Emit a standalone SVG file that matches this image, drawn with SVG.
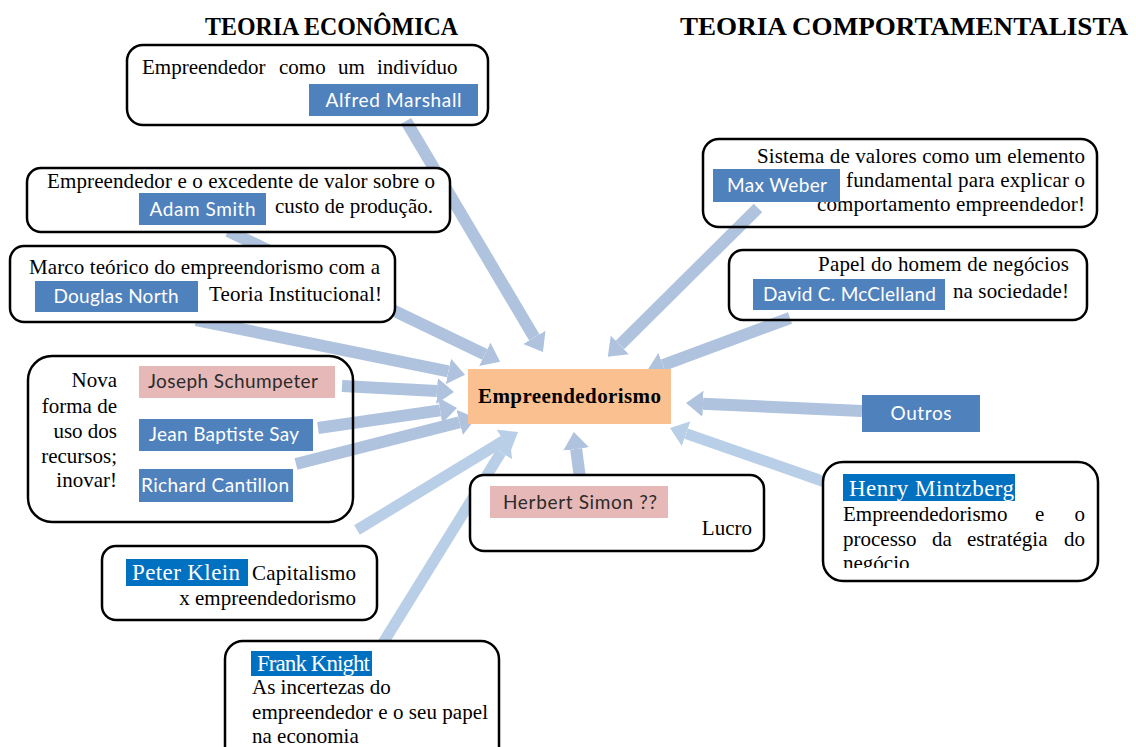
<svg xmlns="http://www.w3.org/2000/svg" width="1136" height="747" viewBox="0 0 1136 747">
  <defs>
    <marker id="h1" markerUnits="userSpaceOnUse" markerWidth="17" markerHeight="26" refX="0" refY="13" orient="auto" viewBox="0 0 17 26">
      <path d="M0,0 L17,13 L0,26 z" fill="#AFC3DF"/>
    </marker>
    <marker id="h2" markerUnits="userSpaceOnUse" markerWidth="17" markerHeight="26" refX="0" refY="13" orient="auto" viewBox="0 0 17 26">
      <path d="M0,0 L17,13 L0,26 z" fill="#B9CEE7"/>
    </marker>
    <clipPath id="mintzClip"><rect x="823" y="462" width="275" height="106"/></clipPath>
    <style>
      .box{fill:#fff;stroke:#000;stroke-width:2.5}
      .open{fill:none}
      .t{font-family:"Liberation Serif","Times New Roman",serif;font-size:21px;fill:#000}
      .title{font-family:"Liberation Serif","Times New Roman",serif;font-size:26px;font-weight:bold;fill:#000}
      .lb{font-family:Lato,"Noto Sans",sans-serif;font-size:19px;fill:#fff}
      .lbd{font-family:Lato,"Noto Sans",sans-serif;font-size:19px;fill:#2b2b2b}
      .hlt{font-family:"Liberation Serif","Times New Roman",serif;font-size:23px;fill:#fff}
      .blue{fill:#4F81BD}
      .pink{fill:#E6B9B8}
      .hl{fill:#0070C0}
      .arr{stroke:#AFC3DF;stroke-width:12;fill:none;marker-end:url(#h1)}
      .arr2{stroke:#B9CEE7;stroke-width:11;fill:none;marker-end:url(#h2)}
      .end{text-anchor:end}
      .mid{text-anchor:middle}
    </style>
  </defs>
  <rect width="1136" height="747" fill="#fff"/>

  <!-- arrows pointing into the central concept (drawn under the boxes) -->
  <g id="connectors">
    <line class="arr" x1="406" y1="121" x2="534.3" y2="337.4"/>
    <line class="arr" x1="228" y1="231" x2="484.8" y2="354.3"/>
    <line class="arr" x1="196" y1="320" x2="448.4" y2="371.4"/>
    <line class="arr" x1="342" y1="386" x2="437" y2="391.1"/>
    <line class="arr" x1="318" y1="428" x2="440.2" y2="410.4"/>
    <line class="arr" x1="296" y1="464" x2="459.6" y2="422.3"/>
    <line class="arr2" x1="357" y1="530" x2="503.5" y2="440.8"/>
    <line class="arr2" x1="383" y1="643" x2="501" y2="452.4"/>
    <line class="arr" x1="580" y1="478" x2="576.1" y2="448.9"/>
    <line class="arr" x1="758" y1="208" x2="619.9" y2="344.9"/>
    <line class="arr" x1="790" y1="318" x2="662.9" y2="365.1"/>
    <line class="arr" x1="862" y1="411" x2="703" y2="403.8"/>
    <line class="arr2" x1="825" y1="482" x2="686.1" y2="433.6"/>
  </g>

  <!-- section headings -->
  <g id="titles">
    <text class="title" x="205" y="35" textLength="253" lengthAdjust="spacingAndGlyphs">TEORIA ECONÔMICA</text>
    <text class="title" x="680" y="35" textLength="448" lengthAdjust="spacingAndGlyphs">TEORIA COMPORTAMENTALISTA</text>
  </g>

  <!-- central concept -->
  <g id="n-center">
    <rect x="468" y="369" width="203" height="55" fill="#FAC090"/>
    <text x="569.5" y="403" text-anchor="middle" font-family="'Liberation Serif','Times New Roman',serif" font-size="21" font-weight="bold" textLength="183">Empreendedorismo</text>
  </g>

  <g id="n-marshall">
    <rect class="box open" x="127" y="45" width="361" height="80" rx="16"/>
    <text class="t" x="142" y="74">Empreendedor</text>
    <text class="t" x="279" y="74">como</text>
    <text class="t" x="338" y="74">um</text>
    <text class="t" x="377" y="74">indivíduo</text>
    <rect class="blue" x="309" y="84" width="169" height="32"/>
    <text class="lb mid" x="393.5" y="107" textLength="136">Alfred Marshall</text>
  </g>

  <g id="n-smith">
    <rect class="box" x="27" y="168" width="423" height="64" rx="14"/>
    <text class="t" x="47" y="188" textLength="388">Empreendedor e o excedente de valor sobre o</text>
    <rect class="blue" x="139" y="193" width="127" height="32"/>
    <text class="lb mid" x="202.5" y="216" textLength="106">Adam Smith</text>
    <text class="t" x="275" y="213" textLength="158">custo de produção.</text>
  </g>

  <g id="n-north">
    <rect class="box" x="10" y="246" width="385" height="76" rx="14"/>
    <text class="t" x="29" y="274" textLength="351">Marco teórico do empreendorismo com a</text>
    <rect class="blue" x="35" y="281" width="163" height="31"/>
    <text class="lb mid" x="116" y="303" textLength="125">Douglas North</text>
    <text class="t" x="209" y="301" textLength="173">Teoria Institucional!</text>
  </g>

  <g id="n-schumpeter">
    <rect class="box open" x="28" y="356" width="325" height="166" rx="24"/>
    <text class="t end" x="117" y="387">Nova</text>
    <text class="t end" x="117" y="413">forma de</text>
    <text class="t end" x="117" y="438">uso dos</text>
    <text class="t end" x="117" y="463">recursos;</text>
    <text class="t end" x="117" y="487">inovar!</text>
    <rect class="pink" x="139" y="366" width="196" height="32"/>
    <text class="lbd" x="148" y="388" textLength="170">Joseph Schumpeter</text>
    <rect class="blue" x="139" y="419" width="174" height="32"/>
    <text class="lb" x="149" y="441" textLength="150">Jean Baptiste Say</text>
    <rect class="blue" x="139" y="469" width="154" height="33"/>
    <text class="lb" x="141" y="492" textLength="148">Richard Cantillon</text>
  </g>

  <g id="n-simon">
    <rect class="box" x="470" y="475" width="294" height="76" rx="14"/>
    <rect class="pink" x="490" y="486" width="178" height="32"/>
    <text class="lbd" x="503" y="509" textLength="154">Herbert Simon ??</text>
    <text class="t end" x="752" y="535">Lucro</text>
  </g>

  <g id="n-weber">
    <rect class="box open" x="703" y="139" width="394" height="88" rx="16"/>
    <text class="t end" x="1085" y="163" textLength="328">Sistema de valores como um elemento</text>
    <text class="t end" x="1085" y="187" textLength="239">fundamental para explicar o</text>
    <text class="t end" x="1085" y="211" textLength="268">comportamento empreendedor!</text>
    <rect class="blue" x="713" y="169" width="127" height="33"/>
    <text class="lb" x="727" y="192" textLength="100">Max Weber</text>
  </g>

  <g id="n-mcclelland">
    <rect class="box open" x="729" y="250" width="358" height="70" rx="14"/>
    <text class="t end" x="1069" y="271" textLength="251">Papel do homem de negócios</text>
    <rect class="blue" x="753" y="279" width="192" height="31"/>
    <text class="lb" x="763" y="301" textLength="173">David C. McClelland</text>
    <text class="t end" x="1069" y="298" textLength="116">na sociedade!</text>
  </g>

  <g id="n-outros">
    <rect class="blue" x="862" y="395" width="118" height="37"/>
    <text class="lb mid" x="921" y="420" textLength="61">Outros</text>
  </g>

  <g id="n-mintzberg">
    <rect class="box" x="823" y="462" width="275" height="119" rx="20"/>
    <rect class="hl" x="843" y="474" width="172" height="27"/>
    <text class="hlt" x="849" y="496" textLength="165">Henry Mintzberg</text>
    <g clip-path="url(#mintzClip)">
      <text class="t" x="843" y="521">Empreendedorismo</text>
      <text class="t" x="1035" y="521">e</text>
      <text class="t end" x="1085" y="521">o</text>
      <text class="t" x="843" y="546">processo</text>
      <text class="t" x="932" y="546">da</text>
      <text class="t" x="967" y="546">estratégia</text>
      <text class="t end" x="1085" y="546">do</text>
      <text class="t" x="843" y="570">negócio</text>
    </g>
  </g>

  <g id="n-klein">
    <rect class="box" x="102" y="546" width="275" height="74" rx="14"/>
    <rect class="hl" x="126" y="559" width="122" height="27"/>
    <text class="hlt" x="132" y="580" textLength="108">Peter Klein</text>
    <text class="t" x="252" y="580" textLength="104">Capitalismo</text>
    <text class="t end" x="356" y="605">x empreendedorismo</text>
  </g>

  <g id="n-knight">
    <rect class="box" x="225" y="641" width="274" height="130" rx="18"/>
    <rect class="hl" x="251" y="651" width="121" height="25"/>
    <text class="hlt" x="257" y="671" font-size="21" textLength="113">Frank Knight</text>
    <text class="t" x="252" y="694">As incertezas do</text>
    <text class="t" x="252" y="719" textLength="236">empreendedor e o seu papel</text>
    <text class="t" x="252" y="743">na economia</text>
  </g>
</svg>
